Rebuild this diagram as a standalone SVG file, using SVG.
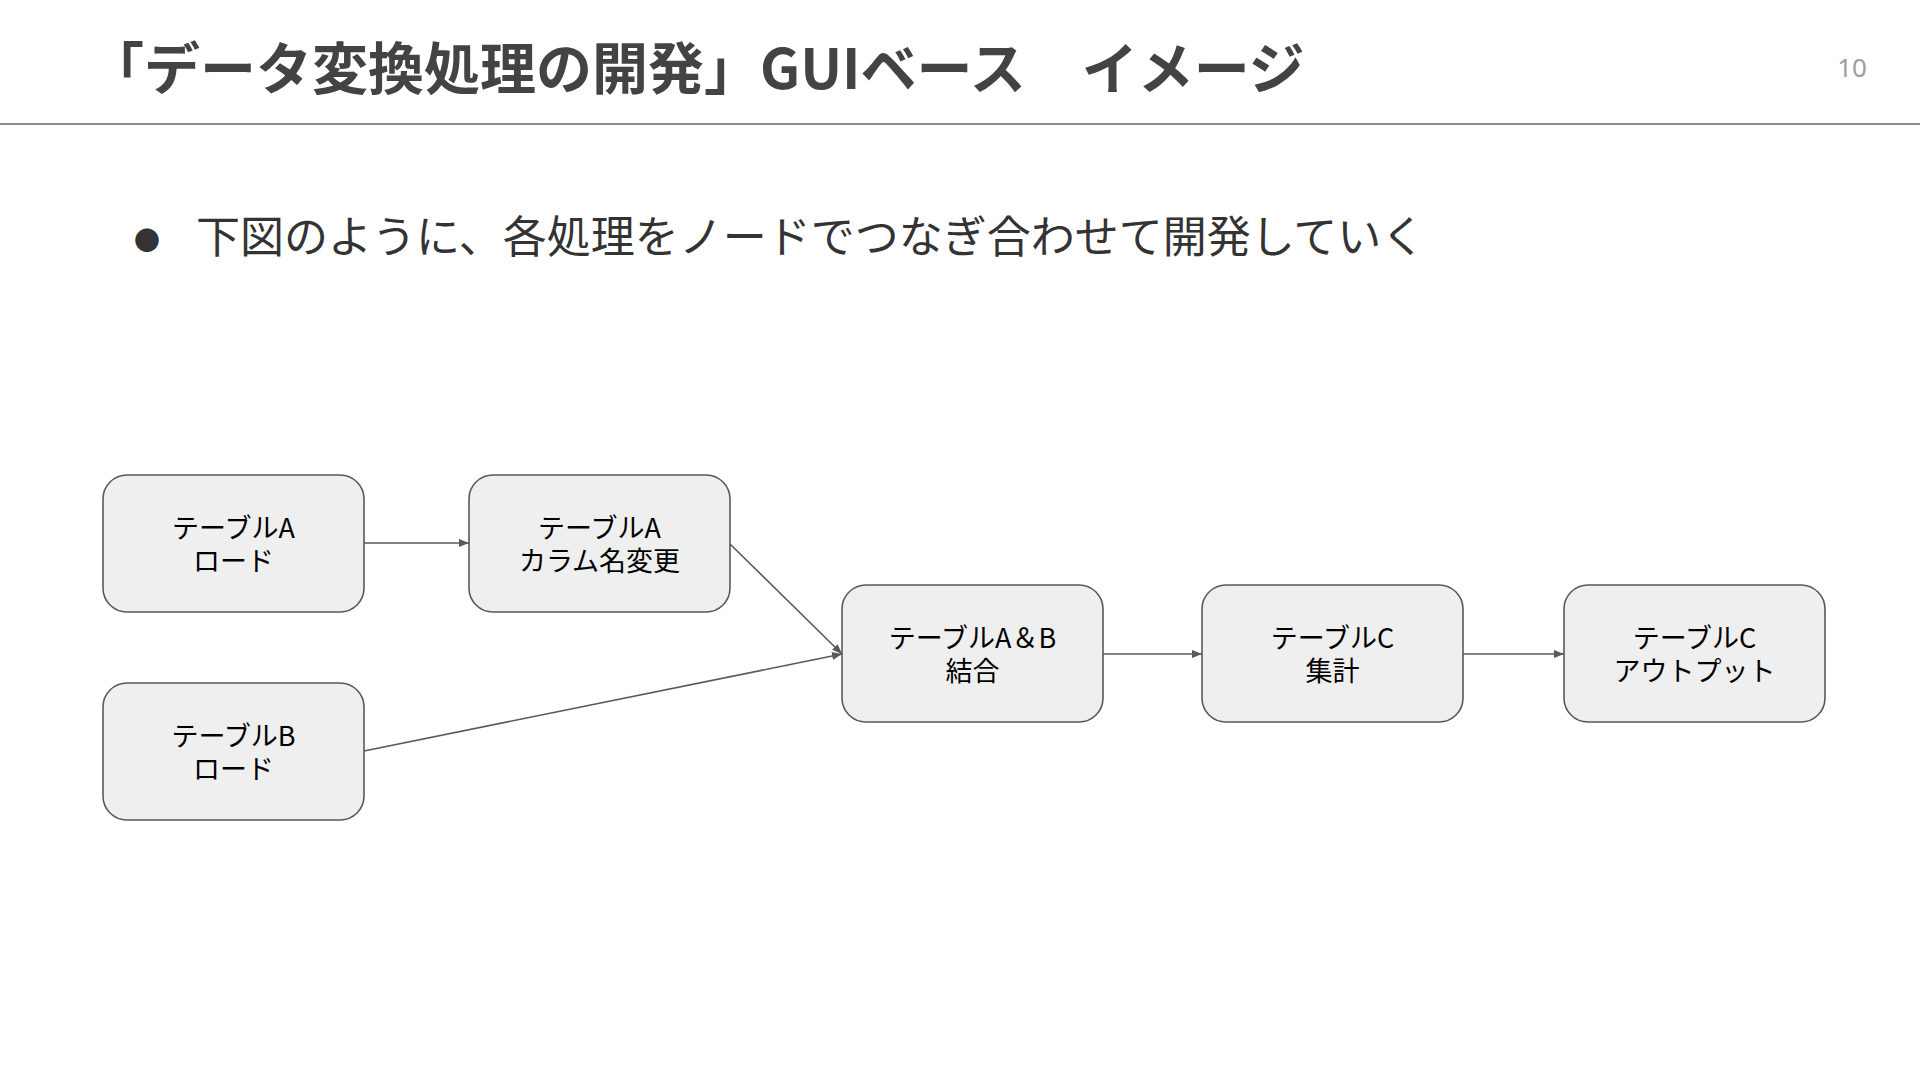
<svg xmlns="http://www.w3.org/2000/svg" width="1920" height="1080" viewBox="0 0 1920 1080">
<defs>
<marker id="arr" viewBox="0 0 10 10" refX="10" refY="5" markerWidth="10" markerHeight="10" markerUnits="userSpaceOnUse" orient="auto">
<path d="M0,1 L10,5 L0,9 Z" fill="#595959"/>
</marker>
<style>
.node rect{fill:#efefef;stroke:#595959;stroke-width:1.6}
.node text{font-family:"Noto Sans CJK JP","Noto Sans",sans-serif;font-size:27px;fill:#000;text-anchor:middle}
.conn line{stroke:#595959;stroke-width:1.6;marker-end:url(#arr)}
</style>
</defs>
<rect width="1920" height="1080" fill="#fff"/>
<text x="88" y="89" font-family="'Noto Sans CJK JP','Noto Sans',sans-serif" font-size="56" font-weight="bold" fill="#434343">「データ変換処理の開発」GUIベース　イメージ</text>
<text x="1867" y="77" font-family="'Noto Sans','Noto Sans CJK JP',sans-serif" font-size="26" fill="#9e9e9e" text-anchor="end">10</text>
<line x1="0" y1="124" x2="1920" y2="124" stroke="#666" stroke-width="1.5"/>
<text x="134" y="250" font-family="'Noto Sans CJK JP',sans-serif" font-size="26" fill="#333">●</text>
<text x="196" y="253" font-family="'Noto Sans CJK JP','Noto Sans',sans-serif" font-size="44" fill="#333">下図のように、各処理をノードでつなぎ合わせて開発していく</text>
<g class="conn">
<line x1="364" y1="543" x2="469" y2="543"/>
<line x1="730" y1="544" x2="842" y2="654"/>
<line x1="364" y1="751" x2="842" y2="654"/>
<line x1="1103" y1="654" x2="1202" y2="654"/>
<line x1="1463" y1="654" x2="1564" y2="654"/>
</g>
<g id="node-a-load" class="node"><rect x="103" y="475" width="261" height="137" rx="24"/><text x="233.5" y="538">テーブルA</text><text x="233.5" y="571">ロード</text></g>
<g id="node-a-rename" class="node"><rect x="469" y="475" width="261" height="137" rx="24"/><text x="599.5" y="538">テーブルA</text><text x="599.5" y="571">カラム名変更</text></g>
<g id="node-b-load" class="node"><rect x="103" y="683" width="261" height="137" rx="24"/><text x="233.5" y="746">テーブルB</text><text x="233.5" y="779">ロード</text></g>
<g id="node-ab-join" class="node"><rect x="842" y="585" width="261" height="137" rx="24"/><text x="972.5" y="648">テーブルA＆B</text><text x="972.5" y="681">結合</text></g>
<g id="node-c-agg" class="node"><rect x="1202" y="585" width="261" height="137" rx="24"/><text x="1332.5" y="648">テーブルC</text><text x="1332.5" y="681">集計</text></g>
<g id="node-c-out" class="node"><rect x="1564" y="585" width="261" height="137" rx="24"/><text x="1694.5" y="648">テーブルC</text><text x="1694.5" y="681">アウトプット</text></g>
</svg>
